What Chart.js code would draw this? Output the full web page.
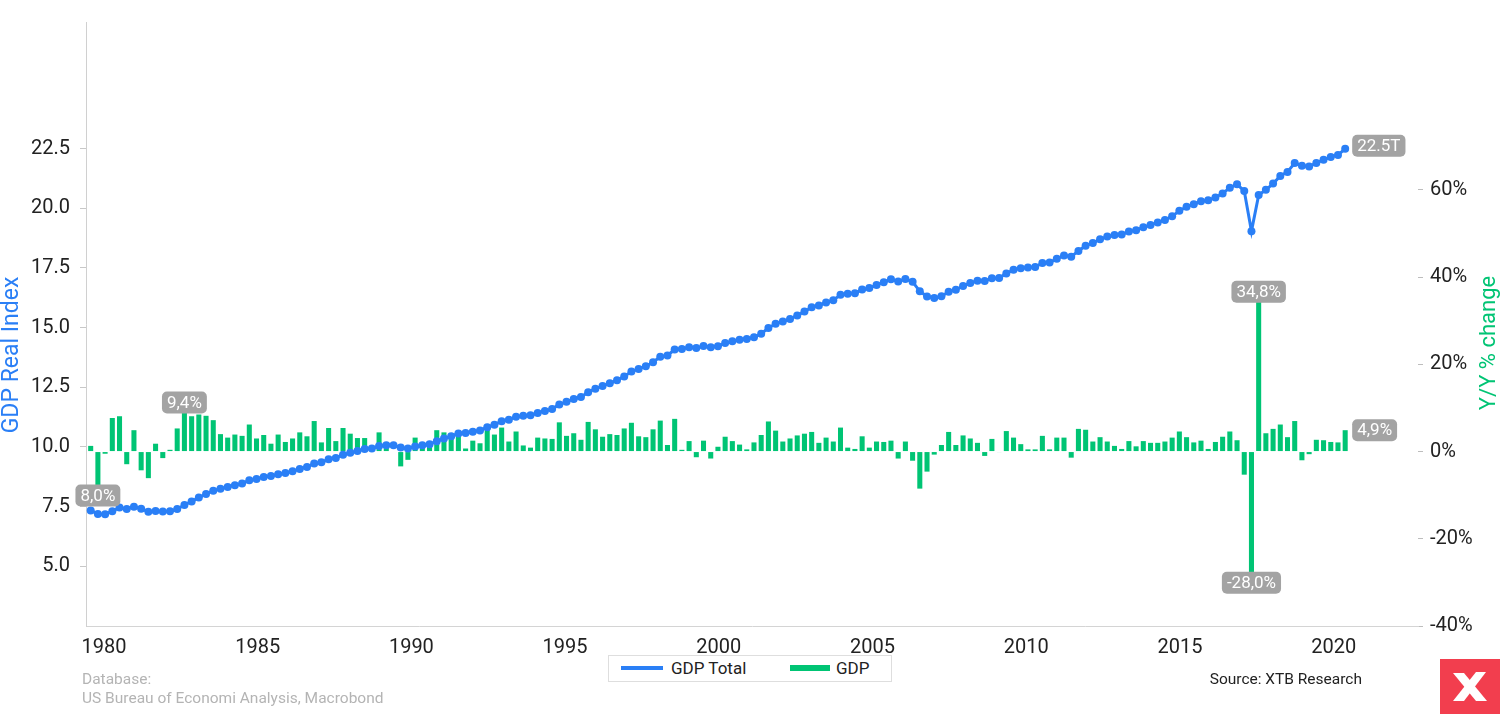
<!DOCTYPE html>
<html lang="en">
<head>
<meta charset="UTF-8">
<title>US GDP - real index and quarterly change</title>
<style>
  body { margin: 0; background: #fff; font-family: Roboto, Arial, sans-serif; }
  #wrap { position: absolute; left: 0; top: 0; width: 1500px; height: 714px; }
  #legend {
    position: absolute; left: 608px; top: 655px; width: 284px; height: 27px;
    border: 1px solid #dedede; box-sizing: border-box; background: #fff;
    font-size: 17px; color: #222;
  }
  #legend span { position: absolute; }
  .note { position: absolute; font-size: 15.5px; line-height: 19px; }
  #db { left: 82px; top: 670px; color: #b4b4b4; }
  #src { right: 138px; top: 670px; color: #222; }
  #logo { position: absolute; left: 1440px; top: 659px; width: 60px; height: 55px; }
</style>
</head>
<body>
<div id="wrap"><canvas id="chart"></canvas></div>

<div id="legend">
  <span style="left:12px;top:10px;width:42px;height:4px;background:#2a7ff6"></span>
  <span style="left:62px;top:2px">GDP Total</span>
  <span style="left:181px;top:9px;width:40px;height:6px;background:#00c474"></span>
  <span style="left:227px;top:2px">GDP</span>
</div>
<div id="db" class="note">Database:<br>US Bureau of Economi Analysis, Macrobond</div>
<div id="src" class="note">Source: XTB Research</div>
<svg id="logo" viewBox="0 0 60 55">
  <rect width="60" height="55" fill="#f23e4e"/>
  <path d="M13 14 L24 14 L47 42 L36 42 Z" fill="#fff"/>
  <path d="M46 13 L36 13 L13 42 L24 42 Z" fill="#fff"/>
</svg>

<script src="https://cdn.jsdelivr.net/npm/chart.js@4"></script>
<script>
// quarterly, 1980 Q1 .. 2023 Q3
const firstYear = 1980;

// real GDP level (trillions, chained dollars)
const gdpTotal = [
  7.34, 7.19, 7.18, 7.31,   7.46, 7.40, 7.49, 7.41,   7.29, 7.32, 7.30, 7.31,
  7.40, 7.57, 7.72, 7.88,   8.03, 8.17, 8.25, 8.32,   8.40, 8.47, 8.60, 8.66,
  8.74, 8.78, 8.86, 8.91,   8.98, 9.08, 9.16, 9.31,   9.36, 9.48, 9.54, 9.67,
  9.76, 9.83, 9.91, 9.93,   10.04, 10.07, 10.07, 9.98, 9.94, 10.02, 10.07, 10.11,
  10.24, 10.35, 10.45, 10.56, 10.58, 10.64, 10.69, 10.83, 10.93, 11.08, 11.14, 11.27,
  11.31, 11.33, 11.42, 11.51, 11.59, 11.78, 11.89, 12.01, 12.09, 12.29, 12.44, 12.55,
  12.67, 12.79, 12.95, 13.16, 13.27, 13.38, 13.55, 13.78, 13.83, 14.08, 14.10, 14.18,
  14.14, 14.23, 14.18, 14.22, 14.35, 14.43, 14.49, 14.52, 14.59, 14.74, 14.98, 15.16,
  15.25, 15.36, 15.51, 15.67, 15.85, 15.93, 16.05, 16.15, 16.37, 16.42, 16.44, 16.59,
  16.66, 16.78, 16.90, 17.02, 16.93, 17.04, 16.92, 16.52, 16.30, 16.24, 16.31, 16.50,
  16.58, 16.74, 16.87, 16.96, 16.95, 17.07, 17.08, 17.27, 17.42, 17.49, 17.52, 17.54,
  17.71, 17.73, 17.88, 18.02, 17.97, 18.21, 18.43, 18.54, 18.70, 18.81, 18.88, 18.90,
  19.02, 19.08, 19.20, 19.30, 19.40, 19.51, 19.66, 19.89, 20.06, 20.17, 20.29, 20.33,
  20.45, 20.62, 20.86, 21.00, 20.72, 19.04, 20.55, 20.77, 21.03, 21.35, 21.52, 21.89,
  21.78, 21.75, 21.89, 22.03, 22.14, 22.23, 22.49
];

// quarter on quarter change, annualised (%)
const gdpChange = [
  1.3, -8.0, -0.5, 7.7,   8.1, -2.9, 4.9, -4.3,   -6.1, 1.8, -1.5, 0.4,
  5.3, 9.4, 8.1, 8.5,     8.2, 7.2, 4.0, 3.2,     3.9, 3.6, 6.2, 3.0,
  3.8, 1.8, 3.9, 2.2,     3.0, 4.4, 3.5, 7.0,     2.1, 5.4, 2.4, 5.4,
  4.1, 3.1, 3.1, 0.8,     4.4, 1.5, 0.0, -3.4,    -1.9, 3.2, 2.0, 1.9,
  4.9, 4.4, 4.0, 4.2,     0.7, 2.5, 1.9, 5.4,     3.9, 5.5, 2.3, 4.6,
  1.4, 0.9, 3.2, 3.0,     2.9, 6.7, 3.6, 4.2,     2.7, 6.8, 5.1, 3.4,
  4.0, 3.8, 5.3, 6.6,     3.5, 3.3, 5.1, 7.1,     1.5, 7.5, 0.4, 2.4,
  -1.3, 2.5, -1.6, 1.1,   3.4, 2.4, 1.6, 0.5,     2.1, 3.8, 6.9, 4.8,
  2.3, 3.0, 3.7, 4.1,     4.5, 2.0, 3.2, 2.3,     5.5, 0.9, 0.6, 3.5,
  0.9, 2.3, 2.2, 2.5,     -1.6, 2.3, -2.1, -8.5,  -4.6, -0.7, 1.5, 4.5,
  1.5, 3.7, 3.0, 2.0,     -1.0, 2.9, -0.1, 4.7,   3.2, 1.7, 0.5, 0.5,
  3.6, 0.5, 3.2, 3.2,     -1.4, 5.2, 5.0, 2.3,    3.3, 2.3, 1.3, 0.6,
  2.4, 1.2, 2.4, 2.0,     2.0, 2.3, 3.2, 4.6,     3.3, 2.1, 2.5, 0.6,
  2.2, 3.4, 4.6, 2.6,     -5.3, -28.0, 34.8, 4.2, 5.2, 6.2, 3.3, 7.0,
  -2.0, -0.6, 2.7, 2.6,   2.2, 2.1, 4.9
];

const yearLabels = ['1980', '1985', '1990', '1995', '2000', '2005', '2010', '2015', '2020'];
const leftTicks = [5, 7.5, 10, 12.5, 15, 17.5, 20, 22.5];
const rightTicks = [-40, -20, 0, 20, 40, 60];

const quarters = gdpTotal.map((v, i) => 'Q' + (i % 4 + 1) + ' ' + (firstYear + Math.floor(i / 4)));

// grey value boxes
const callouts = [
  { ds: 1, i: 1, text: '8,0%', pos: 'below' },
  { ds: 1, i: 13, text: '9,4%', pos: 'above' },
  { ds: 1, i: 162, text: '34,8%', pos: 'above' },
  { ds: 1, i: 161, text: '-28,0%', pos: 'below' },
  { ds: 1, i: 174, text: '4,9%', pos: 'right', dy: 0 },
  { ds: 0, i: 174, text: '22.5T', pos: 'right', dy: 3 }
];

const BLUE = '#2a7ff6';
const GREEN = '#00c474';

function roundBox(ctx, x, y, w, h, r) {
  ctx.beginPath();
  ctx.moveTo(x + r, y);
  ctx.arcTo(x + w, y, x + w, y + h, r);
  ctx.arcTo(x + w, y + h, x, y + h, r);
  ctx.arcTo(x, y + h, x, y, r);
  ctx.arcTo(x, y, x + w, y, r);
  ctx.closePath();
}

const overlay = {
  id: 'overlay',
  afterDatasetsDraw(chart) {
    const ctx = chart.ctx;
    ctx.save();
    ctx.font = '17px Roboto';
    ctx.textAlign = 'center';
    ctx.textBaseline = 'middle';
    callouts.forEach(c => {
      const pt = chart.getDatasetMeta(c.ds).data[c.i];
      const x = pt.x, y = pt.y;
      const w = ctx.measureText(c.text).width + 10, h = 22;
      let bx, by;
      if (c.pos === 'above') { bx = x - w / 2; by = y - h + 3; }
      else if (c.pos === 'below') { bx = x - w / 2; by = y - 2; }
      else { bx = x + 7; by = y - h / 2 - c.dy; }
      roundBox(ctx, bx, by, w, h, 5);
      ctx.fillStyle = '#a3a3a3';
      ctx.fill();
      ctx.fillStyle = '#fff';
      ctx.fillText(c.text, bx + w / 2, by + h / 2 + 1);
    });
    ctx.restore();
  },
  afterDraw(chart) {
    const ctx = chart.ctx;
    ctx.save();
    ctx.font = '23px Roboto';
    ctx.textAlign = 'center';
    ctx.textBaseline = 'middle';
    ctx.translate(12, 355);
    ctx.rotate(-Math.PI / 2);
    ctx.fillStyle = BLUE;
    ctx.fillText('GDP Real Index', 0, 0);
    ctx.restore();

    ctx.save();
    ctx.font = '22px Roboto';
    ctx.textAlign = 'center';
    ctx.textBaseline = 'middle';
    ctx.translate(1489, 343);
    ctx.rotate(-Math.PI / 2);
    ctx.fillStyle = GREEN;
    ctx.fillText('Y/Y % change', 0, 0);
    ctx.restore();
  }
};

Chart.defaults.font.family = 'Roboto';

new Chart(document.getElementById('chart'), {
  type: 'bar',
  data: {
    labels: quarters,
    datasets: [
      {
        type: 'line',
        label: 'GDP Total',
        data: gdpTotal.map((v, i) => ({ x: i, y: v })),
        yAxisID: 'y',
        borderColor: BLUE,
        backgroundColor: BLUE,
        borderWidth: 3,
        pointRadius: 4,
        pointBorderWidth: 0,
        pointHoverRadius: 5,
        tension: 0,
        order: 0
      },
      {
        type: 'bar',
        label: 'GDP',
        data: gdpChange.map((v, i) => ({ x: i, y: v })),
        yAxisID: 'y1',
        backgroundColor: GREEN,
        barPercentage: 0.7,
        categoryPercentage: 1,
        order: 1
      }
    ]
  },
  options: {
    responsive: true,
    maintainAspectRatio: false,
    animation: false,
    layout: { padding: { top: 20, left: 0, right: 0, bottom: 0 } },
    plugins: {
      legend: { display: false },
      tooltip: {
        callbacks: { title: items => quarters[items[0].dataIndex] }
      }
    },
    scales: {
      x: {
        type: 'linear',
        offset: false,
        min: -0.65,
        max: 184.1,
        afterFit: s => { s.height = 88; },
        afterBuildTicks: s => { s.ticks = yearLabels.map((l, k) => ({ value: 1.84 + 21.32 * k })); },
        grid: { display: true, drawOnChartArea: false, drawTicks: false, offset: false },
        border: { display: true, color: '#d4d4d4' },
        ticks: {
          autoSkip: false,
          maxRotation: 0,
          padding: 10,
          color: '#222',
          font: { size: 20 },
          callback: (v, idx) => yearLabels[idx]
        }
      },
      y: {
        position: 'left',
        min: 2.5,
        max: 27.8,
        afterFit: s => { s.width = 86; },
        afterBuildTicks: s => { s.ticks = leftTicks.map(v => ({ value: v })); },
        grid: { drawOnChartArea: false, tickLength: 6, color: '#c8c8c8' },
        border: { display: true, color: '#d0d0d0' },
        ticks: {
          padding: 10,
          color: '#222',
          font: { size: 20 },
          callback: v => v.toFixed(1)
        }
      },
      y1: {
        position: 'right',
        min: -40,
        max: 98.5,
        afterFit: s => { s.width = 82; },
        afterBuildTicks: s => { s.ticks = rightTicks.map(v => ({ value: v })); },
        grid: { drawOnChartArea: false, tickLength: 5, color: '#bdbdbd' },
        border: { display: false },
        ticks: {
          padding: 7,
          color: '#222',
          font: { size: 20 },
          callback: v => v + '%'
        }
      }
    }
  },
  plugins: [overlay]
});
</script>
</body>
</html>
